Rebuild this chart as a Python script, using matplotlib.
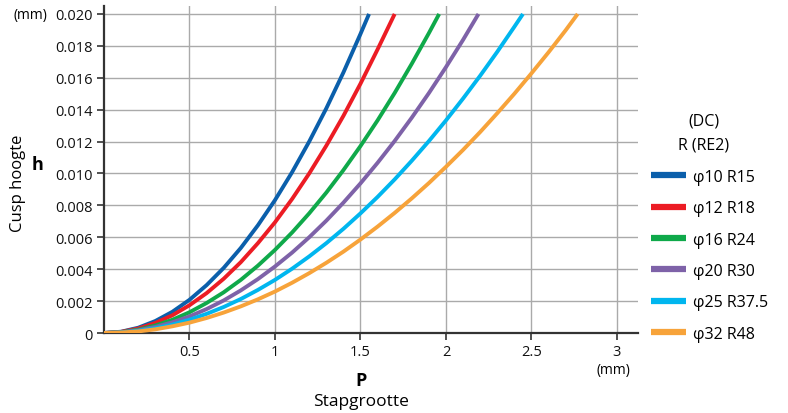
import matplotlib
matplotlib.use("Agg")
import matplotlib.pyplot as plt

plt.rcParams['font.family'] = ['Open Sans', 'DejaVu Sans']

# Step size P (mm) and cusp height h (mm) per tool
p_r15 = [0, 0.1, 0.2, 0.3, 0.4, 0.5, 0.6, 0.7, 0.8, 0.9, 1.0, 1.1, 1.2, 1.3, 1.4, 1.5, 1.55]
h_r15 = [0, 0.00008, 0.00033, 0.00075, 0.00133, 0.00208, 0.0030, 0.00408, 0.00533, 0.00675,
         0.00833, 0.01008, 0.0120, 0.01408, 0.01633, 0.01875, 0.0200]

p_r18 = [0, 0.1, 0.2, 0.3, 0.4, 0.5, 0.6, 0.7, 0.8, 0.9, 1.0, 1.1, 1.2, 1.3, 1.4, 1.5, 1.6, 1.7]
h_r18 = [0, 0.00007, 0.00028, 0.00063, 0.00111, 0.00174, 0.0025, 0.0034, 0.00444, 0.00563,
         0.00694, 0.0084, 0.0100, 0.01174, 0.01361, 0.01563, 0.01778, 0.0200]

p_r24 = [0, 0.1, 0.2, 0.3, 0.4, 0.5, 0.6, 0.7, 0.8, 0.9, 1.0, 1.1, 1.2, 1.3, 1.4, 1.5, 1.6, 1.7,
         1.8, 1.9, 1.96]
h_r24 = [0, 0.00005, 0.00021, 0.00047, 0.00083, 0.0013, 0.00188, 0.00255, 0.00333, 0.00422,
         0.00521, 0.0063, 0.0075, 0.0088, 0.01021, 0.01172, 0.01333, 0.01505, 0.01688, 0.0188, 0.0200]

p_r30 = [0, 0.1, 0.2, 0.3, 0.4, 0.5, 0.6, 0.7, 0.8, 0.9, 1.0, 1.1, 1.2, 1.3, 1.4, 1.5, 1.6, 1.7,
         1.8, 1.9, 2.0, 2.1, 2.19]
h_r30 = [0, 0.00004, 0.00017, 0.00038, 0.00067, 0.00104, 0.0015, 0.00204, 0.00267, 0.00338,
         0.00417, 0.00504, 0.0060, 0.00704, 0.00817, 0.00938, 0.01067, 0.01204, 0.0135, 0.01504,
         0.01667, 0.01838, 0.0200]

p_r375 = [0, 0.1, 0.2, 0.3, 0.4, 0.5, 0.6, 0.7, 0.8, 0.9, 1.0, 1.1, 1.2, 1.3, 1.4, 1.5, 1.6, 1.7,
          1.8, 1.9, 2.0, 2.1, 2.2, 2.3, 2.4, 2.45]
h_r375 = [0, 0.00003, 0.00013, 0.0003, 0.00053, 0.00083, 0.0012, 0.00163, 0.00213, 0.0027,
          0.00333, 0.00403, 0.0048, 0.00563, 0.00653, 0.0075, 0.00853, 0.00963, 0.0108, 0.01203,
          0.01333, 0.0147, 0.01613, 0.01763, 0.0192, 0.0200]

p_r48 = [0, 0.1, 0.2, 0.3, 0.4, 0.5, 0.6, 0.7, 0.8, 0.9, 1.0, 1.1, 1.2, 1.3, 1.4, 1.5, 1.6, 1.7,
         1.8, 1.9, 2.0, 2.1, 2.2, 2.3, 2.4, 2.5, 2.6, 2.7, 2.77]
h_r48 = [0, 0.00003, 0.0001, 0.00023, 0.00042, 0.00065, 0.00094, 0.00128, 0.00167, 0.00211,
         0.0026, 0.00315, 0.00375, 0.0044, 0.0051, 0.00586, 0.00667, 0.00753, 0.00844, 0.0094,
         0.01042, 0.01148, 0.0126, 0.01378, 0.015, 0.01628, 0.0176, 0.01898, 0.0200]

labels = ["φ10 R15", "φ12 R18", "φ16 R24", "φ20 R30", "φ25 R37.5", "φ32 R48"]
colors = ["#0b5fab", "#ec1c24", "#0fa94a", "#7e62a8", "#00b6ef", "#f7a33a"]
series = [(p_r15, h_r15), (p_r18, h_r18), (p_r24, h_r24), (p_r30, h_r30),
          (p_r375, h_r375), (p_r48, h_r48)]

x_ticks = [0.5, 1, 1.5, 2, 2.5, 3]
x_ticklabels = ["0.5", "1", "1.5", "2", "2.5", "3"]
y_ticks = [0, 0.002, 0.004, 0.006, 0.008, 0.010, 0.012, 0.014, 0.016, 0.018, 0.020]
y_ticklabels = ["0", "0.002", "0.004", "0.006", "0.008", "0.010", "0.012", "0.014",
                "0.016", "0.018", "0.020"]

fig = plt.figure(figsize=(7.88, 4.14), dpi=100)
ax = fig.add_axes([104/788, 1 - 334/414, (638-104)/788, (334-7)/414])

for (p, h), lab, c in zip(series, labels, colors):
    ax.plot(p, h, color=c, lw=2.8, label=lab, solid_capstyle='butt', zorder=3)

ax.set_xlim(0, 3.123)
ax.set_ylim(0, 0.0205)
ax.set_xticks(x_ticks)
ax.set_xticklabels(x_ticklabels, fontsize=10.5)
ax.set_yticks(y_ticks)
ax.set_yticklabels(y_ticklabels, fontsize=10.5)
ax.grid(True, color="#aaaaaa", lw=1, zorder=0)
for s in ["top", "right"]:
    ax.spines[s].set_visible(False)
for s in ["left", "bottom"]:
    ax.spines[s].set_color("#333333")
    ax.spines[s].set_linewidth(1.6)
ax.tick_params(axis='both', direction='out', length=5, width=1.2, color="#333333",
               labelcolor="#111111", pad=3)

fig.text(30/788, 1 - 15/414, "(mm)", fontsize=10, ha='center', va='center')
fig.text(613/788, 1 - 371/414, "(mm)", fontsize=10, ha='center', va='center')
fig.text(361/788, 1 - 381/414, "P", fontsize=13, fontweight='bold', ha='center', va='center')
fig.text(361/788, 1 - 402/414, "Stapgrootte", fontsize=12.5, ha='center', va='center')
fig.text(18/788, 1 - 183/414, "Cusp hoogte", fontsize=12, rotation=90, ha='center', va='center')
fig.text(38/788, 1 - 165/414, "h", fontsize=13, fontweight='bold', ha='center', va='center')

# legend title
fig.text(704/788, 1 - 122/414, "(DC)", fontsize=11.5, ha='center', va='center')
fig.text(704/788, 1 - 145/414, "R (RE2)", fontsize=11.5, ha='center', va='center')

leg = fig.legend(loc='upper left', bbox_to_anchor=(651/788, 1 - 170/414), frameon=False,
                 fontsize=11.5, handlelength=2.2, handletextpad=0.4, labelspacing=0.96,
                 borderaxespad=0, borderpad=0)
for line in leg.get_lines():
    line.set_linewidth(4.5)

fig.savefig("out.png", dpi=100)
